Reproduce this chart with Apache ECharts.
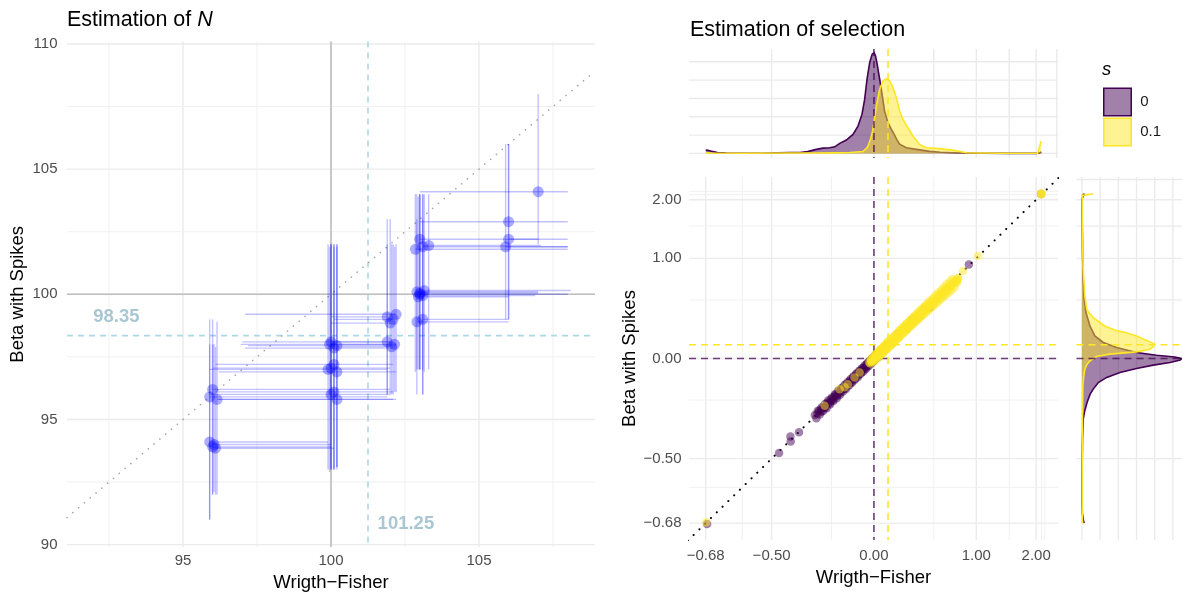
<!DOCTYPE html>
<html>
<head>
<meta charset="utf-8">
<script src="https://cdn.jsdelivr.net/npm/echarts@6/dist/echarts.min.js"></script>
<style>
  html, body { margin: 0; padding: 0; background: #ffffff; }
  #chart { width: 1182px; height: 597px; }
</style>
</head>
<body>
<div id="chart"></div>
<script>
// ---------------- Estimation of N ----------------
// rows: [Wright-Fisher estimate, Beta-with-Spikes estimate, WF low, WF high, BwS low, BwS high]
const nEstimates = [
  [96.00, 93.90, 96.00, 100.00, 92.0, 98.0],
  [95.90, 94.10, 95.90, 99.90, 91.0, 98.0],
  [96.10, 93.85, 96.10, 100.10, 92.0, 97.9],
  [96.05, 94.00, 96.05, 100.00, 92.1, 98.0],
  [95.90, 95.90, 95.90, 101.90, 91.0, 99.0],
  [96.00, 96.20, 96.00, 102.00, 92.0, 99.0],
  [96.15, 95.80, 96.15, 102.10, 92.0, 98.9],
  [100.00, 96.00, 96.00, 102.00, 93.0, 102.0],
  [100.10, 96.10, 96.10, 102.10, 93.0, 101.9],
  [100.20, 95.80, 96.20, 102.20, 93.1, 102.0],
  [99.90, 97.00, 95.90, 101.90, 93.0, 102.0],
  [100.10, 97.20, 96.10, 102.10, 93.0, 102.0],
  [100.20, 96.90, 96.20, 102.20, 93.1, 101.9],
  [100.00, 97.05, 96.00, 102.00, 93.0, 102.0],
  [100.00, 98.10, 97.00, 102.00, 93.0, 102.0],
  [100.10, 97.85, 97.10, 102.10, 93.0, 102.0],
  [100.20, 97.95, 97.20, 102.20, 93.0, 102.0],
  [99.95, 98.00, 96.95, 101.95, 92.9, 101.9],
  [101.90, 98.10, 100.00, 102.00, 96.0, 102.0],
  [102.05, 97.90, 100.10, 102.10, 96.0, 102.0],
  [102.15, 98.00, 100.00, 102.20, 96.1, 101.9],
  [101.90, 99.10, 100.00, 101.90, 96.0, 103.0],
  [102.10, 99.00, 100.10, 102.10, 96.0, 102.0],
  [102.00, 98.85, 100.00, 102.00, 96.0, 103.0],
  [102.20, 99.20, 97.10, 102.20, 96.1, 102.0],
  [103.00, 100.00, 103.00, 108.00, 97.0, 104.0],
  [102.90, 100.10, 102.90, 107.00, 97.0, 104.0],
  [103.10, 99.95, 103.10, 106.90, 96.0, 104.0],
  [103.00, 100.05, 103.00, 107.00, 97.0, 104.0],
  [102.95, 99.90, 102.95, 106.00, 97.0, 103.9],
  [103.15, 100.15, 103.15, 108.10, 96.9, 104.0],
  [102.90, 98.90, 102.90, 106.00, 96.0, 103.0],
  [103.10, 99.00, 103.10, 106.00, 96.0, 103.0],
  [103.00, 102.20, 103.00, 107.00, 97.0, 104.0],
  [103.10, 101.90, 103.10, 108.00, 97.0, 104.0],
  [102.85, 101.80, 102.85, 108.00, 96.9, 104.0],
  [103.30, 101.95, 103.10, 107.10, 97.0, 104.0],
  [105.90, 101.90, 105.90, 108.00, 99.0, 106.0],
  [106.00, 102.20, 106.00, 108.00, 99.0, 106.0],
  [106.00, 102.90, 103.00, 108.00, 99.0, 106.0],
  [107.00, 104.10, 103.00, 108.00, 102.0, 108.0]
];
const nTrue = 100;
const nMeanWF = 101.25;
const nMeanBS = 98.35;
const nTicksX = [95, 100, 105];
const nTicksY = [90, 95, 100, 105, 110];
const nMinor = [92.5, 97.5, 102.5, 107.5];
const nRangeX = [91.08, 108.92];
const nRangeY = [89.9, 110.1];

// ---------------- Estimation of selection ----------------
const sTrue = [0, 0.1];
const sGroups = ['0', '0.1'];
// [Wright-Fisher estimate, Beta-with-Spikes estimate], s = 0
const sEst0 = [
  [-0.677, -0.682], [-0.474, -0.480], [-0.432, -0.417], [-0.431, -0.437], [-0.398, -0.400],
  [-0.330, -0.324], [-0.323, -0.339], [-0.316, -0.303], [-0.307, -0.321], [-0.299, -0.287],
  [-0.291, -0.305], [-0.282, -0.270], [-0.274, -0.291], [-0.265, -0.251], [-0.257, -0.272],
  [-0.248, -0.236], [-0.240, -0.255], [-0.231, -0.218], [-0.223, -0.240], [-0.214, -0.199],
  [-0.206, -0.223], [-0.197, -0.185], [-0.189, -0.204], [-0.180, -0.166], [-0.172, -0.190],
  [-0.163, -0.150], [-0.155, -0.170], [-0.146, -0.133], [-0.138, -0.155], [-0.129, -0.116],
  [-0.121, -0.136], [-0.112, -0.099], [-0.104, -0.121], [-0.095, -0.082], [-0.087, -0.102],
  [-0.078, -0.066], [-0.070, -0.087], [-0.061, -0.047], [-0.053, -0.070], [-0.044, -0.031],
  [-0.036, -0.052], [-0.027, -0.014], [-0.019, -0.036], [-0.011, 0.003], [-0.003, -0.019],
  [0.005, 0.015], [0.012, -0.003], [0.021, 0.027], [0.029, 0.011], [0.041, 0.049],
  [-0.318, -0.318], [-0.302, -0.300], [-0.286, -0.289], [-0.269, -0.268], [-0.252, -0.255],
  [-0.235, -0.233], [-0.218, -0.221], [-0.201, -0.200], [-0.184, -0.187], [-0.167, -0.166],
  [-0.150, -0.153], [-0.133, -0.131], [-0.116, -0.119], [-0.099, -0.098], [-0.082, -0.085],
  [-0.065, -0.063], [-0.048, -0.051], [-0.031, -0.030], [-0.014, -0.017], [0.003, 0.004],
  [0.018, 0.014],
  [-0.310, -0.304], [-0.290, -0.284], [-0.271, -0.263], [-0.250, -0.243], [-0.231, -0.223],
  [-0.210, -0.203], [-0.191, -0.183], [-0.170, -0.163], [-0.151, -0.142], [-0.130, -0.122],
  [-0.111, -0.102], [-0.090, -0.082], [-0.071, -0.062], [-0.050, -0.041], [-0.031, -0.021],
  [-0.010, -0.001], [0.010, 0.019],
  [-0.300, -0.308], [-0.281, -0.288], [-0.260, -0.268], [-0.241, -0.248], [-0.220, -0.229],
  [-0.201, -0.209], [-0.180, -0.189], [-0.161, -0.169], [-0.140, -0.150], [-0.121, -0.130],
  [-0.100, -0.110], [-0.081, -0.090], [-0.060, -0.070], [-0.041, -0.051], [-0.020, -0.031],
  [-0.001, -0.011], [0.020, 0.009],
  [0.062, 0.050], [0.088, 0.097], [0.131, 0.119], [0.178, 0.189], [0.242, 0.229],
  [0.298, 0.309], [0.362, 0.347], [0.409, 0.406], [0.458, 0.422], [0.902, 0.915],
  [2.100, 2.120]
];
// s = 0.1
const sEst01 = [
  [-0.679, -0.678], [-0.284, -0.279], [-0.208, -0.191], [-0.180, -0.180], [-0.162, -0.163],
  [-0.123, -0.123], [-0.092, -0.092],
  [-0.032, -0.028], [-0.025, -0.034], [-0.021, -0.012], [-0.014, -0.025], [-0.010, 0.004],
  [-0.006, -0.016], [0.000, 0.012], [0.003, -0.010], [0.008, 0.021], [0.012, -0.004],
  [0.016, 0.030], [0.020, 0.006], [0.025, 0.041], [0.029, 0.012], [0.033, 0.048],
  [0.037, 0.020], [0.041, 0.058], [0.045, 0.026], [0.050, 0.066], [0.054, 0.033],
  [0.058, 0.074], [0.062, 0.041], [0.067, 0.084], [0.071, 0.050], [0.075, 0.093],
  [0.080, 0.058], [0.084, 0.101], [0.088, 0.066], [0.093, 0.111], [0.097, 0.074],
  [0.102, 0.120], [0.106, 0.083], [0.111, 0.130], [0.116, 0.092], [0.121, 0.140],
  [0.126, 0.101], [0.131, 0.150], [0.136, 0.112], [0.141, 0.160], [0.146, 0.121],
  [0.152, 0.171], [0.157, 0.131], [0.163, 0.183], [0.168, 0.142], [0.174, 0.194],
  [0.180, 0.153], [0.186, 0.206], [0.192, 0.165], [0.198, 0.219], [0.204, 0.177],
  [0.211, 0.232], [0.217, 0.189], [0.224, 0.246], [0.231, 0.202], [0.238, 0.260],
  [0.245, 0.215], [0.252, 0.274], [0.259, 0.229], [0.267, 0.289], [0.275, 0.243],
  [0.283, 0.305], [0.291, 0.258], [0.299, 0.321], [0.307, 0.273], [0.316, 0.338],
  [0.325, 0.289], [0.334, 0.355], [0.343, 0.305], [0.352, 0.373], [0.361, 0.322],
  [0.371, 0.391], [0.381, 0.339], [0.391, 0.410], [0.401, 0.357], [0.412, 0.430],
  [0.423, 0.376], [0.434, 0.450], [0.445, 0.395], [0.456, 0.470], [0.468, 0.415],
  [0.480, 0.491], [0.492, 0.436], [0.505, 0.513], [0.518, 0.457], [0.531, 0.535],
  [0.544, 0.479], [0.558, 0.558], [0.572, 0.503], [0.586, 0.582], [0.600, 0.527],
  [0.615, 0.607], [0.630, 0.552], [0.645, 0.632], [0.660, 0.578], [0.676, 0.658],
  [0.692, 0.605], [0.708, 0.686], [0.724, 0.635], [0.740, 0.714], [0.755, 0.690],
  [0.766, 0.750], [0.770, 0.730],
  [-0.018, -0.022], [0.005, 0.001], [0.022, 0.018], [0.040, 0.036], [0.058, 0.052],
  [0.076, 0.071], [0.094, 0.089], [0.113, 0.107], [0.132, 0.126], [0.152, 0.144],
  [0.172, 0.165], [0.193, 0.184], [0.214, 0.206], [0.236, 0.226], [0.258, 0.249],
  [0.281, 0.270], [0.304, 0.294], [0.328, 0.317], [0.352, 0.341], [0.377, 0.365],
  [0.402, 0.391], [0.428, 0.415], [0.455, 0.442], [0.482, 0.468], [0.510, 0.496],
  [0.538, 0.523], [0.567, 0.552], [0.597, 0.580], [0.627, 0.610], [0.658, 0.640],
  [0.690, 0.670], [0.722, 0.701], [0.750, 0.728],
  [-0.020, 0.000], [0.010, 0.031], [0.041, 0.062], [0.070, 0.092], [0.099, 0.123],
  [0.131, 0.153], [0.160, 0.184], [0.189, 0.215], [0.221, 0.245], [0.250, 0.276],
  [0.279, 0.307], [0.311, 0.337], [0.340, 0.368], [0.369, 0.398], [0.401, 0.429],
  [0.430, 0.460], [0.459, 0.490], [0.491, 0.521], [0.520, 0.551], [0.549, 0.582],
  [0.581, 0.613], [0.610, 0.643], [0.639, 0.674], [0.671, 0.705], [0.700, 0.735],
  [0.005, -0.019], [0.036, 0.010], [0.065, 0.039], [0.094, 0.068], [0.126, 0.098],
  [0.155, 0.127], [0.184, 0.156], [0.216, 0.186], [0.245, 0.215], [0.274, 0.244],
  [0.306, 0.273], [0.335, 0.303], [0.364, 0.332], [0.396, 0.361], [0.425, 0.391],
  [0.454, 0.420], [0.486, 0.449], [0.515, 0.478], [0.544, 0.508], [0.576, 0.537],
  [0.605, 0.566], [0.634, 0.595], [0.666, 0.625], [0.695, 0.654], [0.724, 0.683],
  [0.755, 0.713],
  [0.827, 0.832], [1.022, 1.032],
  [2.100, 2.120], [2.110, 2.130], [2.104, 2.132], [2.112, 2.118]
];
const sBreaks = [-0.68, -0.5, 0, 1, 2];
const sMinorBreaks = [-0.59, -0.25, 0.5, 1.5, 2.11, 2.18];
const sMarginBreaks = [-0.5, 0, 0.5, 1, 1.5, 2, 2.45];
const densBreaks = [0, 1, 2, 3, 4, 5];
const sRangeX = [-1.2526, 1.2466];   // log1p scale
const sRangeY = [-1.256, 1.256];     // log1p scale

// marginal densities, computed on the log1p scale: [position, density]
const densTop0 = [
  [-1.139, 0.17], [-1.131, 0.18], [-1.10, 0.12], [-1.06, 0.05], [-1.00, 0.02], [-0.90, 0.01],
  [-0.75, 0.01], [-0.65, 0.03], [-0.57, 0.05], [-0.50, 0.05], [-0.45, 0.10], [-0.39, 0.22],
  [-0.345, 0.29], [-0.30, 0.31], [-0.265, 0.36], [-0.232, 0.55], [-0.187, 0.73], [-0.142, 1.04],
  [-0.108, 1.49], [-0.081, 2.13], [-0.063, 2.95], [-0.047, 4.04], [-0.029, 4.95], [-0.012, 5.42],
  [0.001, 5.50], [0.010, 5.35], [0.020, 4.95], [0.039, 4.04], [0.057, 3.13], [0.072, 2.31],
  [0.095, 1.68], [0.118, 1.31], [0.140, 1.00], [0.157, 0.72], [0.174, 0.50], [0.219, 0.31],
  [0.287, 0.22], [0.377, 0.11], [0.45, 0.06], [0.533, 0.04], [0.716, 0.01], [0.90, 0.00],
  [1.10, 0.00], [1.125, 0.04], [1.133, 0.09]
];
const densTop01 = [
  [-1.139, 0.03], [-1.10, 0.02], [-0.90, 0.01], [-0.60, 0.02], [-0.40, 0.02], [-0.266, 0.03],
  [-0.165, 0.05], [-0.0745, 0.10], [-0.043, 0.35], [-0.022, 0.80], [-0.007, 1.31], [0.016, 2.58],
  [0.039, 3.50], [0.061, 3.95], [0.084, 4.08], [0.106, 3.95], [0.129, 3.59], [0.152, 3.04],
  [0.174, 2.31], [0.196, 1.86], [0.230, 1.40], [0.264, 0.95], [0.309, 0.49], [0.355, 0.31],
  [0.445, 0.26], [0.535, 0.18], [0.626, 0.04], [0.85, 0.01], [1.108, 0.01], [1.133, 0.67]
];
const densSide0 = [
  [-1.139, 0.12], [-1.12, 0.08], [-1.07, 0.02], [-1.00, 0.01], [-0.765, 0.01], [-0.558, 0.03],
  [-0.419, 0.07], [-0.364, 0.15], [-0.304, 0.28], [-0.247, 0.45], [-0.212, 0.62], [-0.166, 0.90],
  [-0.131, 1.36], [-0.097, 2.09], [-0.069, 3.00], [-0.046, 3.92], [-0.028, 4.84], [-0.010, 5.40],
  [0.000, 5.50], [0.010, 5.10], [0.023, 4.10], [0.041, 3.00], [0.076, 1.90], [0.111, 1.17],
  [0.156, 0.71], [0.225, 0.44], [0.318, 0.22], [0.41, 0.12], [0.548, 0.07], [0.686, 0.04],
  [0.893, 0.02], [1.10, 0.00], [1.133, 0.08], [1.14, 0.15]
];
const densSide01 = [
  [-1.139, 0.04], [-1.10, 0.02], [-0.80, 0.02], [-0.419, 0.03], [-0.189, 0.05], [-0.120, 0.10],
  [-0.074, 0.16], [-0.040, 0.28], [-0.017, 0.44], [0.014, 0.80], [0.030, 1.54], [0.046, 3.00],
  [0.064, 3.74], [0.085, 3.95], [0.099, 4.00], [0.115, 3.75], [0.133, 3.40], [0.156, 3.00],
  [0.18, 2.40], [0.191, 1.95], [0.225, 1.25], [0.283, 0.62], [0.318, 0.38], [0.341, 0.26],
  [0.433, 0.16], [0.55, 0.10], [0.617, 0.07], [0.824, 0.03], [1.10, 0.01], [1.127, 0.02],
  [1.140, 0.62]
];

// ---------------- styling helpers ----------------
const FONT = '"Liberation Sans", Arial, Helvetica, sans-serif';
const PURPLE = '#440154';
const YELLOW = '#FDE725';
const PURPLE_A = 'rgba(68,1,84,0.5)';
const YELLOW_A = 'rgba(253,231,37,0.5)';
const PURPLE_DASH = 'rgba(68,1,84,0.75)';
const GRID_MAJOR = { stroke: '#EBEBEB', lineWidth: 1.4 };
const GRID_MINOR = { stroke: '#F1F1F1', lineWidth: 1.0 };
const DASH = [7, 5];
const L = Math.log1p;

// full-width / full-height rules drawn through the axis scales
function rules(xi, yi, vals, dir, style, z) {
  return {
    type: 'custom', xAxisIndex: xi, yAxisIndex: yi, z: z, silent: true,
    data: vals.map(v => dir === 'v' ? [v, 0] : [0, v]),
    renderItem: function (params, api) {
      const cs = params.coordSys;
      const p = api.coord([api.value(0), api.value(1)]);
      const shape = dir === 'v'
        ? { x1: p[0], y1: cs.y, x2: p[0], y2: cs.y + cs.height }
        : { x1: cs.x, y1: p[1], x2: cs.x + cs.width, y2: p[1] };
      return { type: 'line', shape: shape, style: Object.assign({ fill: null }, style) };
    }
  };
}

function densitySeries(name, curve, stroke, fill, xi, yi, vertical, z) {
  const first = curve[0][0];
  return {
    type: 'custom', name: name, xAxisIndex: xi, yAxisIndex: yi, z: z, silent: true,
    data: [vertical ? [0, first] : [first, 0]],
    renderItem: function (params, api) {
      const pt = p => vertical ? api.coord([p[1], p[0]]) : api.coord([p[0], p[1]]);
      const line = curve.map(pt);
      const b0 = pt([curve[0][0], 0]);
      const b1 = pt([curve[curve.length - 1][0], 0]);
      return {
        type: 'group',
        children: [
          { type: 'polygon', shape: { points: [b0].concat(line, [b1]) }, style: { fill: fill, stroke: null } },
          { type: 'polyline', shape: { points: line }, style: { fill: null, stroke: stroke, lineWidth: 1.6 } }
        ]
      };
    }
  };
}

const sFmt = v => {
  const r = Math.round(Math.expm1(v) * 100) / 100;
  return (r < 0 ? '\u2212' : '') + Math.abs(r).toFixed(2);
};

const tickText = { fontFamily: FONT, fontSize: 15, color: '#4D4D4D' };
const nameText = { fontFamily: FONT, fontSize: 18.5, color: '#000000' };
const hidden = { axisLine: { show: false }, axisTick: { show: false }, splitLine: { show: false } };

const chart = echarts.init(document.getElementById('chart'), null, { renderer: 'canvas' });

const option = {
  animation: false,
  backgroundColor: '#ffffff',
  title: [
    {
      text: '{a|Estimation of }{b|N}', left: 67, top: 9, padding: 0,
      textStyle: {
        fontFamily: FONT, fontSize: 21.5, fontWeight: 'normal', color: '#000',
        rich: {
          a: { fontFamily: FONT, fontSize: 21.5, color: '#000' },
          b: { fontFamily: FONT, fontSize: 21.5, color: '#000', fontStyle: 'italic' }
        }
      }
    },
    {
      text: 'Estimation of selection', left: 690, top: 19, padding: 0,
      textStyle: { fontFamily: FONT, fontSize: 21.5, fontWeight: 'normal', color: '#000' }
    },
    {
      text: 's', left: 1102, top: 60, padding: 0,
      textStyle: { fontFamily: FONT, fontSize: 18.5, fontWeight: 'normal', fontStyle: 'italic', color: '#000' }
    }
  ],
  legend: {
    left: 1103, top: 87.5, orient: 'vertical', padding: 0,
    itemWidth: 27.5, itemHeight: 27.5, itemGap: 1, icon: 'rect',
    selectedMode: false,
    textStyle: { fontFamily: FONT, fontSize: 15, color: '#1A1A1A', padding: [0, 0, 0, 4] },
    data: [
      { name: sGroups[0], itemStyle: { color: PURPLE_A, borderColor: PURPLE, borderWidth: 1.5, opacity: 1 } },
      { name: sGroups[1], itemStyle: { color: YELLOW_A, borderColor: YELLOW, borderWidth: 1.5, opacity: 1 } }
    ]
  },
  grid: [
    { left: 67, top: 41.5, width: 528, height: 508 },
    { left: 689, top: 177, width: 369, height: 363 },
    { left: 689, top: 49, width: 369, height: 109 },
    { left: 1076.5, top: 177, width: 105.5, height: 363 }
  ],
  xAxis: [
    Object.assign({
      gridIndex: 0, type: 'value', min: nRangeX[0], max: nRangeX[1],
      axisLabel: Object.assign({ customValues: nTicksX, margin: 6 }, tickText),
      name: 'Wrigth\u2212Fisher', nameLocation: 'middle', nameGap: 24, nameTextStyle: nameText
    }, hidden),
    Object.assign({
      gridIndex: 1, type: 'value', min: sRangeX[0], max: sRangeX[1],
      axisLabel: Object.assign({ customValues: sBreaks.map(L), formatter: sFmt, margin: 8 }, tickText),
      name: 'Wrigth\u2212Fisher', nameLocation: 'middle', nameGap: 28, nameTextStyle: nameText
    }, hidden),
    Object.assign({
      gridIndex: 2, type: 'value', min: sRangeX[0], max: sRangeX[1], axisLabel: { show: false }
    }, hidden),
    Object.assign({
      gridIndex: 3, type: 'value', min: -0.3, max: 5.5, axisLabel: { show: false }
    }, hidden)
  ],
  yAxis: [
    Object.assign({
      gridIndex: 0, type: 'value', min: nRangeY[0], max: nRangeY[1],
      axisLabel: Object.assign({ customValues: nTicksY, margin: 9.5 }, tickText),
      name: 'Beta with Spikes', nameLocation: 'middle', nameGap: 40, nameTextStyle: nameText
    }, hidden),
    Object.assign({
      gridIndex: 1, type: 'value', min: sRangeY[0], max: sRangeY[1],
      axisLabel: Object.assign({ customValues: sBreaks.map(L), formatter: sFmt, margin: 7.5 }, tickText),
      name: 'Beta with Spikes', nameLocation: 'middle', nameGap: 49, nameTextStyle: nameText
    }, hidden),
    Object.assign({
      gridIndex: 2, type: 'value', min: -0.25, max: 5.7, axisLabel: { show: false }
    }, hidden),
    Object.assign({
      gridIndex: 3, type: 'value', min: sRangeY[0], max: sRangeY[1], axisLabel: { show: false }
    }, hidden)
  ],
  series: [
    // ----- left panel -----
    rules(0, 0, nMinor, 'v', GRID_MINOR, 1),
    rules(0, 0, nTicksX, 'v', GRID_MAJOR, 1),
    rules(0, 0, nMinor, 'h', GRID_MINOR, 1),
    rules(0, 0, nTicksY, 'h', GRID_MAJOR, 1),
    rules(0, 0, [nTrue], 'v', { stroke: '#BEBEBE', lineWidth: 1.6 }, 2),
    rules(0, 0, [nTrue], 'h', { stroke: '#BEBEBE', lineWidth: 1.6 }, 2),
    rules(0, 0, [nMeanWF], 'v', { stroke: '#ADD8E6', lineWidth: 1.6, lineDash: [6, 5] }, 2),
    rules(0, 0, [nMeanBS], 'h', { stroke: '#ADD8E6', lineWidth: 1.6, lineDash: [6, 5] }, 2),
    {
      type: 'line', xAxisIndex: 0, yAxisIndex: 0, z: 2, silent: true, symbol: 'none',
      data: [[nRangeX[0], nRangeX[0]], [nRangeX[1], nRangeX[1]]],
      lineStyle: { color: '#A6A6A6', width: 1.6, type: [0.1, 7.5], cap: 'round' }
    },
    {
      type: 'custom', xAxisIndex: 0, yAxisIndex: 0, z: 3, silent: true,
      data: nEstimates,
      encode: { x: 0, y: 1 },
      renderItem: function (params, api) {
        const x = api.value(0), y = api.value(1);
        const a = api.coord([api.value(2), y]), b = api.coord([api.value(3), y]);
        const c = api.coord([x, api.value(4)]), d = api.coord([x, api.value(5)]);
        const st = { stroke: 'rgba(0,0,255,0.24)', lineWidth: 1.4 };
        return {
          type: 'group',
          children: [
            { type: 'line', shape: { x1: a[0], y1: a[1], x2: b[0], y2: b[1] }, style: st },
            { type: 'line', shape: { x1: c[0], y1: c[1], x2: d[0], y2: d[1] }, style: st }
          ]
        };
      }
    },
    {
      type: 'scatter', xAxisIndex: 0, yAxisIndex: 0, z: 4, silent: true,
      symbolSize: 11, itemStyle: { color: 'rgba(0,0,255,0.32)', opacity: 1, borderWidth: 0 },
      data: nEstimates.map(r => [r[0], r[1]])
    },
    {
      type: 'scatter', xAxisIndex: 0, yAxisIndex: 0, z: 5, silent: true, symbolSize: 0,
      data: [
        { value: [92.75, nMeanBS + 0.75], name: String(nMeanBS) },
        { value: [nMeanWF + 1.28, 90.82], name: String(nMeanWF) }
      ],
      label: {
        show: true, position: 'inside', formatter: '{b}',
        fontFamily: FONT, fontSize: 18.5, fontWeight: 'bold', color: '#93B9C7'
      }
    },

    // ----- right panel: main scatter -----
    rules(1, 1, sMinorBreaks.map(L), 'v', GRID_MINOR, 1),
    rules(1, 1, sBreaks.map(L), 'v', GRID_MAJOR, 1),
    rules(1, 1, sMinorBreaks.map(L), 'h', GRID_MINOR, 1),
    rules(1, 1, sBreaks.map(L), 'h', GRID_MAJOR, 1),
    rules(1, 1, [L(sTrue[0])], 'v', { stroke: PURPLE_DASH, lineWidth: 1.6, lineDash: DASH }, 2),
    rules(1, 1, [L(sTrue[0])], 'h', { stroke: PURPLE_DASH, lineWidth: 1.6, lineDash: DASH }, 2),
    rules(1, 1, [L(sTrue[1])], 'v', { stroke: YELLOW, lineWidth: 1.6, lineDash: DASH }, 2),
    rules(1, 1, [L(sTrue[1])], 'h', { stroke: YELLOW, lineWidth: 1.6, lineDash: DASH }, 2),
    {
      type: 'line', xAxisIndex: 1, yAxisIndex: 1, z: 2, silent: true, symbol: 'none', clip: true,
      data: [[-1.3, -1.3], [1.3, 1.3]],
      lineStyle: { color: '#000000', width: 2, type: [0.1, 8], cap: 'round' }
    },
    {
      type: 'scatter', name: sGroups[0], xAxisIndex: 1, yAxisIndex: 1, z: 3, silent: true,
      symbolSize: 8.5, itemStyle: { color: PURPLE_A, opacity: 1, borderWidth: 0 },
      data: sEst0.map(p => [L(p[0]), L(p[1])])
    },
    {
      type: 'scatter', name: sGroups[1], xAxisIndex: 1, yAxisIndex: 1, z: 4, silent: true,
      symbolSize: 8.5, itemStyle: { color: YELLOW_A, opacity: 1, borderWidth: 0 },
      data: sEst01.map(p => [L(p[0]), L(p[1])])
    },

    // ----- top marginal density -----
    rules(2, 2, sMarginBreaks.map(L), 'v', GRID_MAJOR, 1),
    rules(2, 2, densBreaks, 'h', GRID_MAJOR, 1),
    densitySeries(sGroups[0], densTop0, PURPLE, PURPLE_A, 2, 2, false, 3),
    densitySeries(sGroups[1], densTop01, YELLOW, YELLOW_A, 2, 2, false, 4),
    rules(2, 2, [L(sTrue[0])], 'v', { stroke: PURPLE_DASH, lineWidth: 1.6, lineDash: DASH }, 5),
    rules(2, 2, [L(sTrue[1])], 'v', { stroke: YELLOW, lineWidth: 1.6, lineDash: DASH }, 5),

    // ----- side marginal density -----
    rules(3, 3, sMarginBreaks.map(L), 'h', GRID_MAJOR, 1),
    rules(3, 3, densBreaks, 'v', GRID_MAJOR, 1),
    densitySeries(sGroups[0], densSide0, PURPLE, PURPLE_A, 3, 3, true, 3),
    densitySeries(sGroups[1], densSide01, YELLOW, YELLOW_A, 3, 3, true, 4),
    rules(3, 3, [L(sTrue[0])], 'h', { stroke: PURPLE_DASH, lineWidth: 1.6, lineDash: DASH }, 5),
    rules(3, 3, [L(sTrue[1])], 'h', { stroke: YELLOW, lineWidth: 1.6, lineDash: DASH }, 5)
  ]
};

chart.setOption(option);
</script>
</body>
</html>
